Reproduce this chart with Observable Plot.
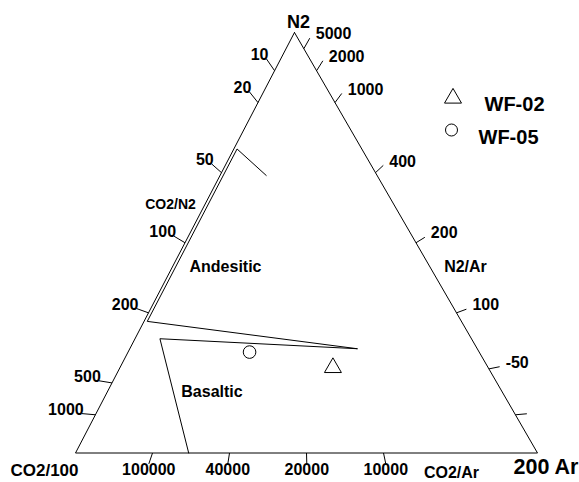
<!DOCTYPE html>
<html><head><meta charset="utf-8">
<script src="https://cdn.jsdelivr.net/npm/d3@7"></script>
<script src="https://cdn.jsdelivr.net/npm/@observablehq/plot@0.6"></script>
<style>
body{margin:0;background:#fff}
#chart svg{font-family: Arial, "Liberation Sans", sans-serif; background:#fff}
</style>
</head><body><div id="chart"></div>
<script>
// Ternary components: [N2, CO2/100, 200 Ar]
const vertexLabels = ["N2", "CO2/100", "200 Ar"];

// Samples (relative %)
const sampleNames = ["WF-02", "WF-05"];
const sampleSymbols = ["triangle", "circle"];
const sampleN2  = [20.3, 24.0];
const sampleCO2 = [33.6, 49.7];
const sampleAr  = [46.1, 26.3];

// Edge ticks (ratio values)
const leftTicks = [10, 20, 50, 100, 200, 500, 1000];           // CO2/N2
const rightTicks = [5000, 2000, 1000, 400, 200, 100, 50, 20];  // N2/Ar
const rightTickLabels = ["5000", "2000", "1000", "400", "200", "100", "-50", ""];
const bottomTicks = [100000, 40000, 20000, 10000];             // CO2/Ar
const axisTitles = ["CO2/N2", "N2/Ar", "CO2/Ar"];

// Field boundaries (relative %)
const fieldNames = ["Andesitic", "Basaltic"];
const andesiticN2  = [66.0, 72.3, 31.3, 24.8];
const andesiticCO2 = [24.0, 27.0, 68.0, 26.0];
const andesiticAr  = [10.0, 0.7, 0.7, 49.2];
const basalticN2   = [0.0, 27.2, 24.8];
const basalticCO2  = [75.5, 67.5, 26.0];
const basalticAr   = [24.5, 5.4, 49.2];

// ---- ternary geometry ----
const APEX = 0.474;
function tern(n2, co2, ar) {
  const s = n2 + co2 + ar;
  const a = n2 / s, c = ar / s;
  return {x: c + a * APEX, y: a};
}
const V = [tern(1,0,0), tern(0,1,0), tern(0,0,1)];
const frame = [V[0], V[1], V[2], V[0]];

function tickRow(p, opp, k, label) {
  return {x1: p.x, y1: p.y, x2: p.x + k * (p.x - opp.x), y2: p.y + k * (p.y - opp.y), label};
}
const leftT = leftTicks.map(r => tickRow(tern(100, r, 0), V[2], 0.031, String(r)));
const rightT = rightTicks.map((r, i) => tickRow(tern(r, 0, 200), V[1], 0.026, rightTickLabels[i]));
const bottomT = bottomTicks.map(r => tickRow(tern(0, r, 20000), V[0], 0.026, String(r)));

const samples = sampleNames.map((name, i) => ({name, ...tern(sampleN2[i], sampleCO2[i], sampleAr[i])}));
const andesitic = andesiticN2.map((v, i) => tern(v, andesiticCO2[i], andesiticAr[i]));
const basaltic = basalticN2.map((v, i) => tern(v, basalticCO2[i], basalticAr[i]));

const bold = {fontWeight: "bold", fill: "black"};

const chart = Plot.plot({
  width: 579, height: 482,
  marginLeft: 75, marginRight: 42, marginTop: 32, marginBottom: 29.5,
  x: {domain: [0, 1], axis: null},
  y: {domain: [0, 1], axis: null},
  symbol: {domain: sampleNames, range: sampleSymbols},
  marks: [
    Plot.line(frame, {x: "x", y: "y", stroke: "black", strokeWidth: 1}),
    Plot.line(andesitic, {x: "x", y: "y", stroke: "black", strokeWidth: 1}),
    Plot.line(basaltic, {x: "x", y: "y", stroke: "black", strokeWidth: 1}),
    Plot.link([...leftT, ...rightT, ...bottomT], {x1: "x1", y1: "y1", x2: "x2", y2: "y2", stroke: "black", strokeWidth: 1}),
    Plot.text(leftT, {x: "x2", y: "y2", text: "label", textAnchor: "end", dx: 2, dy: -4, fontSize: 16, ...bold}),
    Plot.text(rightT, {x: "x2", y: "y2", text: "label", textAnchor: "start", dx: 6, dy: -4, fontSize: 16, ...bold}),
    Plot.text(bottomT, {x: "x2", y: "y2", text: "label", textAnchor: "middle", dy: 6, fontSize: 16, ...bold}),
    // vertex labels
    Plot.text([V[0]], {x: "x", y: "y", text: [vertexLabels[0]], textAnchor: "middle", dx: 4, dy: -10, fontSize: 18, ...bold}),
    Plot.text([V[1]], {x: "x", y: "y", text: [vertexLabels[1]], textAnchor: "middle", dx: -31, dy: 18, fontSize: 17, ...bold}),
    Plot.text([V[2]], {x: "x", y: "y", text: [vertexLabels[2]], textAnchor: "start", dx: -24, dy: 14, fontSize: 21.5, ...bold}),
    // axis titles
    Plot.text([axisTitles[0]], {text: d => d, frameAnchor: "top-left", dx: 95, dy: 167, textAnchor: "middle", fontSize: 14, ...bold}),
    Plot.text([axisTitles[1]], {text: d => d, frameAnchor: "top-left", dx: 390, dy: 228.5, textAnchor: "middle", fontSize: 16, ...bold}),
    Plot.text([axisTitles[2]], {text: d => d, frameAnchor: "top-left", dx: 376, dy: 434, textAnchor: "middle", fontSize: 16, ...bold}),
    // field names
    Plot.text([fieldNames[0]], {text: d => d, frameAnchor: "top-left", dx: 150, dy: 228, textAnchor: "middle", fontSize: 16, ...bold}),
    Plot.text([fieldNames[1]], {text: d => d, frameAnchor: "top-left", dx: 136.5, dy: 353, textAnchor: "middle", fontSize: 16, ...bold}),
    // samples
    Plot.dot(samples, {x: "x", y: "y", symbol: "name", r: 6.3, fill: "none", stroke: "black", strokeWidth: 1}),
    // legend
    Plot.dot([sampleNames[0]], {frameAnchor: "top-left", dx: 377.5, dy: 65.7, symbol: sampleSymbols[0], r: 6.3, fill: "none", stroke: "black", strokeWidth: 1}),
    Plot.text([sampleNames[0]], {text: d => d, frameAnchor: "top-left", dx: 409, dy: 64.5, textAnchor: "start", fontSize: 20, ...bold}),
    Plot.dot([sampleNames[1]], {frameAnchor: "top-left", dx: 376, dy: 97.5, symbol: sampleSymbols[1], r: 6, fill: "none", stroke: "black", strokeWidth: 1}),
    Plot.text([sampleNames[1]], {text: d => d, frameAnchor: "top-left", dx: 403, dy: 97.5, textAnchor: "start", fontSize: 20, ...bold})
  ]
});
document.getElementById("chart").appendChild(chart);
</script>
</body></html>
